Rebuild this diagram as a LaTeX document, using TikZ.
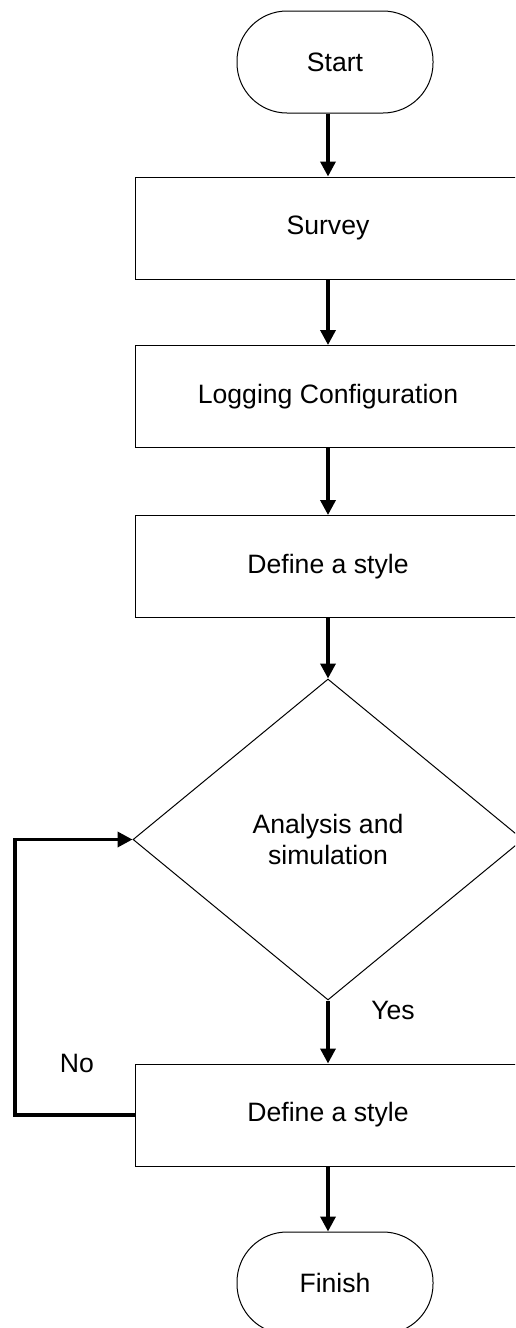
\documentclass[tikz,border=0pt]{standalone}
\usepackage{fontspec}
\setmainfont{Liberation Sans}
\usetikzlibrary{shapes.geometric,arrows.meta}
\begin{document}
\begin{tikzpicture}[x=1pt,y=-1pt,
  every node/.style={font=\fontsize{26.6}{31}\selectfont},
  term/.style={draw,line width=1pt,rectangle,rounded corners=50pt,minimum width=196pt,minimum height=102pt,inner sep=0pt},
  proc/.style={draw,line width=1pt,rectangle,minimum width=386pt,minimum height=102pt,inner sep=0pt},
  decis/.style={draw,line width=1pt,diamond,minimum width=390pt,minimum height=321pt,inner sep=0pt,align=center},
  flow/.style={line width=3.5pt,-{Triangle[width=15pt,length=15pt]}},
  lbl/.style={inner sep=0pt}]
\useasboundingbox (0,0) rectangle (515,1328);
\clip (0,0) rectangle (515,1328);
\fill[white] (0,0) rectangle (515,1328);
\node[term] (start) at (335,62) {Start};
\node[proc] (survey) at (328,228) {Survey};
\node[proc] (logcfg) at (328,396.5) {Logging Configuration};
\node[proc] (style1) at (328,566.5) {Define a style};
\node[decis] (dia) at (328,839.5) {Analysis and\\simulation};
\node[proc] (style2) at (328,1115) {Define a style};
\node[term] (finish) at (335,1283) {Finish};
\node[lbl] (yes) at (393,1010) {Yes};
\node[lbl] (no) at (77,1063) {No};
\coordinate (lp) at (15,1115);
\draw[flow] (start.south -| survey) -- (survey.north);
\draw[flow] (survey.south) -- (logcfg.north);
\draw[flow] (logcfg.south) -- (style1.north);
\draw[flow] (style1.south) -- (dia.north);
\draw[flow] (dia.south) -- (style2.north);
\draw[flow] (style2.south) -- (finish.north -| style2);
\draw[flow] (style2.west) -- (lp) |- (dia.west);
\end{tikzpicture}
\end{document}
